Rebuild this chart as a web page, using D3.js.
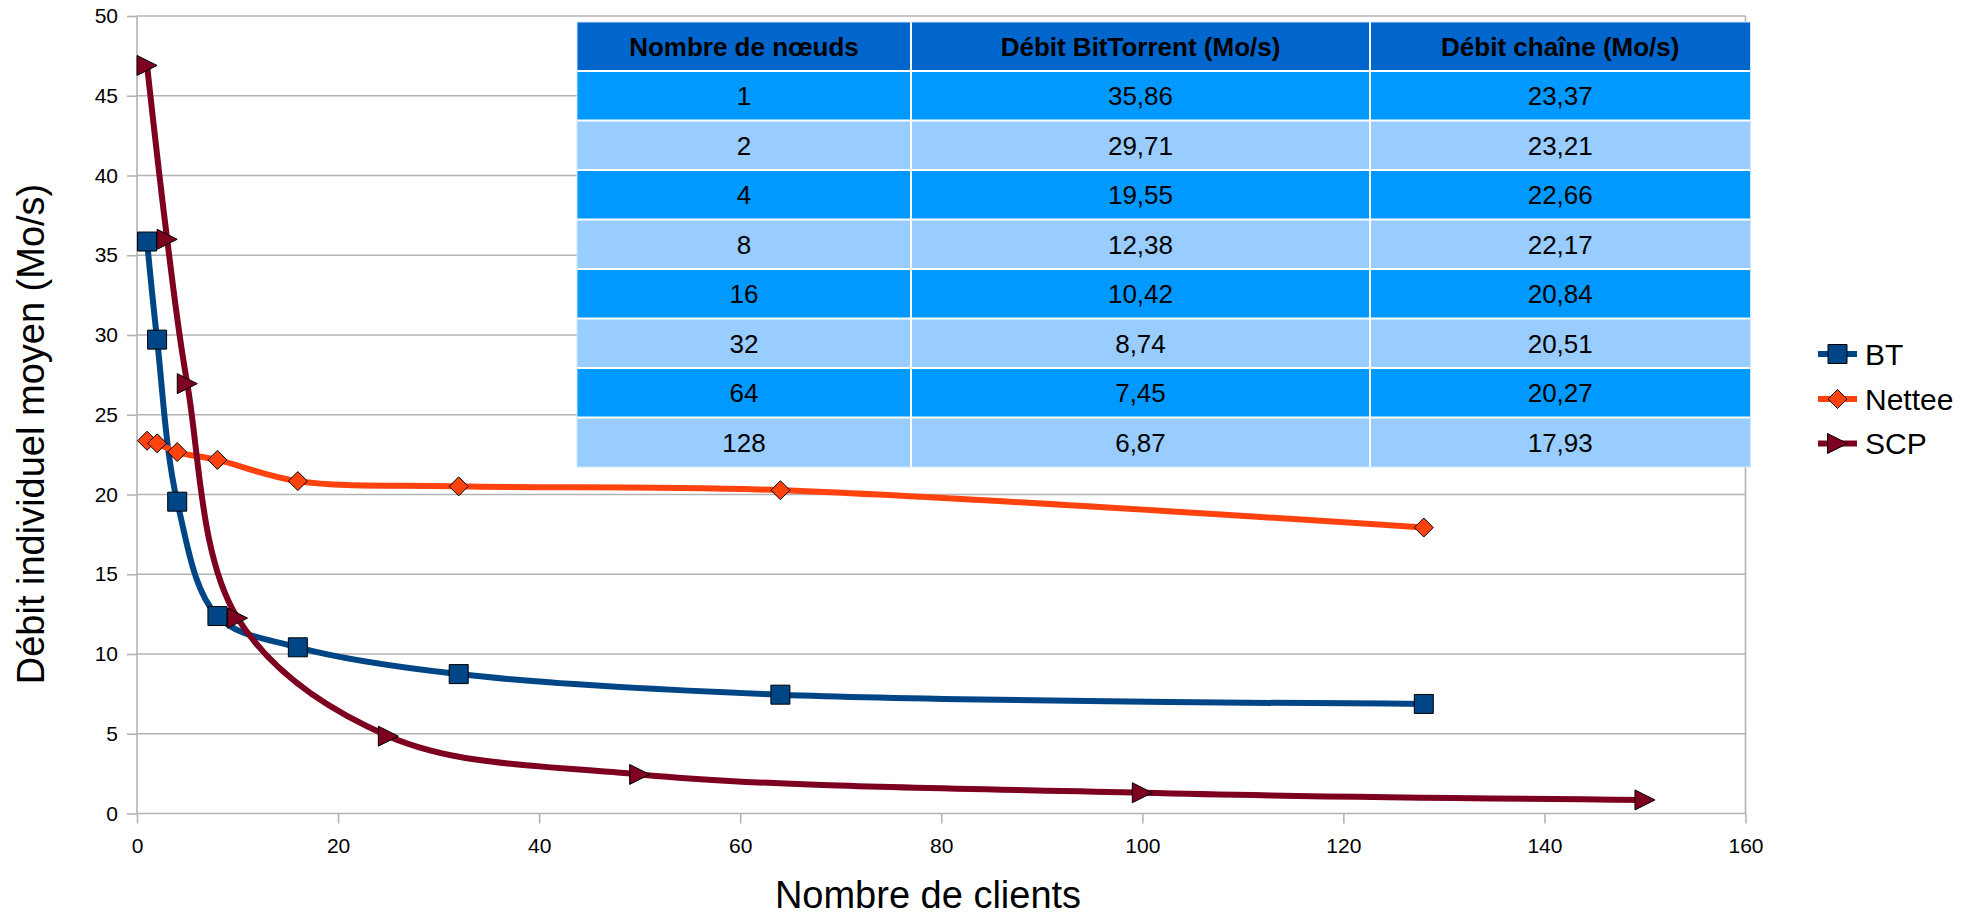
<!DOCTYPE html>
<html lang="fr">
<head>
<meta charset="utf-8">
<title>Débit individuel moyen</title>
<script src="https://cdn.jsdelivr.net/npm/d3@7"></script>
<style>
  html, body { margin: 0; padding: 0; background: #ffffff; }
  svg { display: block; font-family: "Liberation Sans", Arial, Helvetica, sans-serif; }
</style>
</head>
<body>
<svg id="chart" width="1981" height="917"></svg>
<script>
// --- Data -------------------------------------------------------------
const nodes = [1, 2, 4, 8, 16, 32, 64, 128];                       // Nombre de nœuds / clients
const btRate = [35.86, 29.71, 19.55, 12.38, 10.42, 8.74, 7.45, 6.87];   // Débit BitTorrent (Mo/s)
const netteeRate = [23.37, 23.21, 22.66, 22.17, 20.84, 20.51, 20.27, 17.93]; // Débit chaîne (Mo/s)
const scpClients = [1, 3, 5, 10, 25, 50, 100, 150];
const scpRate = [46.9, 36.0, 26.95, 12.25, 4.85, 2.45, 1.3, 0.85];

const xTicks = [0, 20, 40, 60, 80, 100, 120, 140, 160];
const yTicks = [0, 5, 10, 15, 20, 25, 30, 35, 40, 45, 50];
const seriesNames = ["BT", "Nettee", "SCP"];
const tableHeaders = ["Nombre de nœuds", "Débit BitTorrent (Mo/s)", "Débit chaîne (Mo/s)"];
const xTitle = "Nombre de clients";
const yTitle = "Débit individuel moyen (Mo/s)";

// --- Setup ------------------------------------------------------------
const svg = d3.select("#chart");
const frLocale = d3.formatLocale({ decimal: ",", thousands: " ", grouping: [3], currency: ["", " €"] });
const fmt2 = frLocale.format(".2f");

const plot = { left: 137, right: 1745.5, top: 16, bottom: 813.5 };
const x = d3.scaleLinear().domain([0, 160]).range([plot.left, plot.right]);
const y = d3.scaleLinear().domain([0, 50]).range([plot.bottom, plot.top]);

const gridColor = "#b3b3b3";
const colors = { BT: "#004586", Nettee: "#ff420e", SCP: "#7e0021" };

// --- Grid and frame ---------------------------------------------------
svg.append("g").attr("class", "grid")
  .selectAll("line").data(yTicks).join("line")
  .attr("x1", plot.left).attr("x2", plot.right)
  .attr("y1", d => y(d)).attr("y2", d => y(d))
  .attr("stroke", gridColor).attr("stroke-width", 1.6);

svg.append("g").selectAll("line").data([0, 160]).join("line")
  .attr("x1", d => x(d)).attr("x2", d => x(d))
  .attr("y1", plot.top).attr("y2", plot.bottom)
  .attr("stroke", gridColor).attr("stroke-width", 1.6);

// --- Axes -------------------------------------------------------------
const xAxis = d3.axisBottom(x).tickValues(xTicks).tickSize(10).tickPadding(14.5).tickFormat(d3.format("d"));
const yAxis = d3.axisLeft(y).tickValues(yTicks).tickSize(10).tickPadding(9).tickFormat(d3.format("d"));

const gx = svg.append("g").attr("transform", `translate(0,${plot.bottom})`).call(xAxis);
const gy = svg.append("g").attr("transform", `translate(${plot.left},0)`).call(yAxis);
[gx, gy].forEach(g => {
  g.select(".domain").remove();
  g.selectAll(".tick line").attr("stroke", gridColor).attr("stroke-width", 1.6);
  g.selectAll(".tick text").attr("fill", "#000").style("font-size", "21px")
    .style("font-family", "'Liberation Sans', Arial, sans-serif");
});

// Axis titles
svg.append("text")
  .attr("x", 928).attr("y", 908)
  .attr("text-anchor", "middle")
  .style("font-size", "38px").attr("fill", "#000")
  .text(xTitle);

svg.append("text")
  .attr("transform", "translate(44,434) rotate(-90)")
  .attr("text-anchor", "middle")
  .style("font-size", "38px").attr("fill", "#000")
  .text(yTitle);

// --- Table ------------------------------------------------------------
const colEdges = [577, 911, 1370, 1750.5];
const headerTop = 22, headerBottom = 71, rowH = 49.5;
const rowsData = nodes.map((n, i) => [String(n), fmt2(btRate[i]), fmt2(netteeRate[i])]);

const table = svg.append("g").attr("class", "table");
// header
table.selectAll("rect.h").data(tableHeaders).join("rect")
  .attr("class", "h")
  .attr("x", (d, i) => colEdges[i]).attr("y", headerTop)
  .attr("width", (d, i) => colEdges[i + 1] - colEdges[i]).attr("height", headerBottom - headerTop)
  .attr("fill", "#0066cc");
table.selectAll("text.h").data(tableHeaders).join("text")
  .attr("class", "h")
  .attr("x", (d, i) => (colEdges[i] + colEdges[i + 1]) / 2)
  .attr("y", (headerTop + headerBottom) / 2)
  .attr("dy", "0.36em").attr("text-anchor", "middle")
  .style("font-size", "26px").style("font-weight", "bold").attr("fill", "#000")
  .text(d => d);

// body rows
const rowG = table.selectAll("g.row").data(rowsData).join("g")
  .attr("class", "row")
  .attr("transform", (d, i) => `translate(0,${headerBottom + i * rowH})`);
rowG.selectAll("rect").data((d, i) => d.map(v => ({ v, odd: i % 2 === 0 }))).join("rect")
  .attr("x", (d, j) => colEdges[j]).attr("y", 0)
  .attr("width", (d, j) => colEdges[j + 1] - colEdges[j]).attr("height", rowH)
  .attr("fill", d => d.odd ? "#0099ff" : "#99ccff");
rowG.selectAll("text").data(d => d).join("text")
  .attr("x", (d, j) => (colEdges[j] + colEdges[j + 1]) / 2)
  .attr("y", rowH / 2).attr("dy", "0.36em")
  .attr("text-anchor", "middle")
  .style("font-size", "26px").attr("fill", "#000")
  .text(d => d);

// white cell separators
const tableBottom = headerBottom + rowsData.length * rowH;
const hLines = [headerBottom].concat(rowsData.map((d, i) => headerBottom + (i + 1) * rowH).slice(0, -1));
table.selectAll("line.hs").data(hLines).join("line")
  .attr("class", "hs")
  .attr("x1", colEdges[0]).attr("x2", colEdges[3])
  .attr("y1", d => d).attr("y2", d => d)
  .attr("stroke", "#ffffff").attr("stroke-width", 2);
table.selectAll("line.vs").data(colEdges.slice(1, 3)).join("line")
  .attr("class", "vs")
  .attr("x1", d => d).attr("x2", d => d)
  .attr("y1", headerTop).attr("y2", tableBottom)
  .attr("stroke", "#ffffff").attr("stroke-width", 2);
table.append("rect")
  .attr("x", colEdges[0]).attr("y", headerTop)
  .attr("width", colEdges[3] - colEdges[0]).attr("height", tableBottom - headerTop)
  .attr("fill", "none").attr("stroke", "#cfe6ff").attr("stroke-width", 1);

// --- Series -----------------------------------------------------------
const series = [
  { name: "BT", xs: nodes, ys: btRate, shape: "square" },
  { name: "Nettee", xs: nodes, ys: netteeRate, shape: "diamond" },
  { name: "SCP", xs: scpClients, ys: scpRate, shape: "triangle" }
];

function markerPath(shape) {
  if (shape === "square") return "M-9.5,-9.5H9.5V9.5H-9.5Z";
  if (shape === "diamond") return "M0,-9.5L9.5,0L0,9.5L-9.5,0Z";
  return "M-10,-10L10,0L-10,10Z";
}

const line = d3.line()
  .x(d => x(d[0])).y(d => y(d[1]))
  .curve(d3.curveCatmullRom.alpha(0.5));

series.forEach(s => {
  const pts = s.xs.map((v, i) => [v, s.ys[i]]);
  const g = svg.append("g").attr("class", "series-" + s.name);
  g.append("path").datum(pts)
    .attr("d", line)
    .attr("fill", "none")
    .attr("stroke", colors[s.name])
    .attr("stroke-width", 6)
    .attr("stroke-linejoin", "round");
  g.selectAll("path.m").data(pts).join("path")
    .attr("class", "m")
    .attr("transform", d => `translate(${x(d[0])},${y(d[1])})`)
    .attr("d", markerPath(s.shape))
    .attr("fill", colors[s.name])
    .attr("stroke", "#000").attr("stroke-width", 1);
});

// --- Legend -----------------------------------------------------------
const legend = svg.append("g").attr("class", "legend");
const legY = [354, 399, 443.5];
series.forEach((s, i) => {
  const g = legend.append("g").attr("transform", `translate(0,${legY[i]})`);
  g.append("line").attr("x1", 1818).attr("x2", 1857).attr("y1", 0).attr("y2", 0)
    .attr("stroke", colors[s.name]).attr("stroke-width", 6);
  g.append("path").attr("transform", "translate(1837.5,0)")
    .attr("d", markerPath(s.shape))
    .attr("fill", colors[s.name]).attr("stroke", "#000").attr("stroke-width", 1);
  g.append("text").attr("x", 1865).attr("y", 0).attr("dy", "0.36em")
    .style("font-size", "30px").attr("fill", "#000")
    .text(seriesNames[i]);
});
</script>
</body>
</html>
